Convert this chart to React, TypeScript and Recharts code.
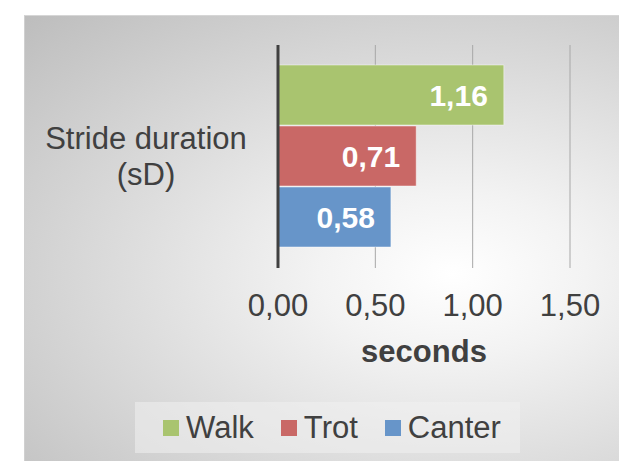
import React from 'react';
import { BarChart, Bar, XAxis, YAxis, CartesianGrid, LabelList, Legend } from 'recharts';

const categories = ['Stride duration (sD)'];
const walkValues = [1.16];
const trotValues = [0.71];
const canterValues = [0.58];
const xTicks = [0, 0.5, 1, 1.5];
const seriesNames = ['Walk', 'Trot', 'Canter'];
const seriesColors = ['#A9C46F', '#C96866', '#6795C9'];
const axisTitle = 'seconds';

const data = categories.map((c, i) => ({
  name: c,
  Walk: walkValues[i],
  Trot: trotValues[i],
  Canter: canterValues[i],
}));

const FONT = '"Liberation Sans", Arial, sans-serif';
const TEXT = '#404040';

const fmt = (v: any) => Number(v).toFixed(2).replace('.', ',');

const CategoryTick = (props: any) => {
  const { x, y, payload } = props;
  const text = String(payload.value);
  const idx = text.indexOf(' (');
  const lines = idx > 0 ? [text.slice(0, idx), text.slice(idx + 1)] : [text];
  const cx = x - 132;
  return (
    <text x={cx} y={y} textAnchor="middle" fill={TEXT} fontSize={31} fontFamily={FONT}>
      {lines.map((l, i) => (
        <tspan key={i} x={cx} y={y - 8 + i * 36}>
          {l}
        </tspan>
      ))}
    </text>
  );
};

const ValueTick = (props: any) => {
  const { x, y, payload } = props;
  return (
    <text x={x} y={y + 48} textAnchor="middle" fill={TEXT} fontSize={31} fontFamily={FONT}>
      {fmt(payload.value)}
    </text>
  );
};

const LegendContent = (props: any) => {
  const payload = [...(props.payload || [])].sort(
    (a: any, b: any) => seriesNames.indexOf(String(a.value)) - seriesNames.indexOf(String(b.value))
  );
  return (
    <div
      style={{
        width: '100%',
        height: '100%',
        display: 'flex',
        alignItems: 'center',
        justifyContent: 'center',
        boxSizing: 'border-box',
        paddingLeft: 9,
        background: 'rgba(240,240,240,0.55)',
        fontFamily: FONT,
        fontSize: 31,
        color: TEXT,
      }}
    >
      {payload.map((p: any, i: number) => (
        <span
          key={i}
          style={{ display: 'inline-flex', alignItems: 'center', marginLeft: i ? 27 : 0, lineHeight: 1 }}
        >
          <span style={{ width: 16, height: 16, background: p.color, marginRight: 7, display: 'inline-block' }} />
          <span>{p.value}</span>
        </span>
      ))}
    </div>
  );
};

export default function App() {
  return (
    <div style={{ position: 'absolute', left: 0, top: 0, width: 619, height: 461, overflow: 'hidden', background: '#ffffff' }}>
      <div
        style={{
          position: 'absolute',
          left: 24,
          top: 15,
          right: 0,
          bottom: 0,
          borderTop: '1px solid #d6d6d6',
          borderLeft: '1px solid #d0d0d0',
          background: 'radial-gradient(ellipse at 72% 58%, #ffffff 0%, #f3f3f3 22%, #dcdcdc 55%, #bdbdbd 100%)',
        }}
      />
      <div style={{ position: 'absolute', left: 0, top: 0 }}>
        <BarChart
          width={619}
          height={461}
          data={data}
          layout="vertical"
          margin={{ top: 45, right: 49, bottom: 99, left: 24 }}
          barCategoryGap={20}
          barGap={1}
        >
          <CartesianGrid horizontal={false} stroke="#a8a8a8" strokeWidth={1} />
          <XAxis
            type="number"
            domain={[0, 1.5]}
            ticks={xTicks}
            axisLine={false}
            tickLine={false}
            tickSize={0}
            tickMargin={0}
            height={94}
            tick={<ValueTick />}
            label={{
              value: axisTitle,
              position: 'insideBottom',
              offset: 0,
              fill: TEXT,
              fontSize: 31,
              fontWeight: 'bold',
              fontFamily: FONT,
            }}
          />
          <YAxis
            type="category"
            dataKey="name"
            width={254}
            axisLine={{ stroke: '#404040', strokeWidth: 3 }}
            tickLine={false}
            tickSize={0}
            tickMargin={0}
            tick={<CategoryTick />}
          />
          <Legend
            layout="horizontal"
            verticalAlign="middle"
            align="center"
            content={<LegendContent />}
            wrapperStyle={{ left: 135, top: 402, width: 385, height: 51 }}
          />
          {seriesNames.map((s, i) => (
            <Bar
              key={s}
              dataKey={s}
              name={s}
              fill={seriesColors[i]}
              stroke="#ffffff"
              strokeOpacity={0.45}
              strokeWidth={1}
              isAnimationActive={false}
            >
              <LabelList
                dataKey={s}
                position="insideRight"
                offset={16}
                formatter={fmt}
                fill="#ffffff"
                fontSize={30}
                fontWeight="bold"
                fontFamily={FONT}
              />
            </Bar>
          ))}
        </BarChart>
      </div>
    </div>
  );
}
